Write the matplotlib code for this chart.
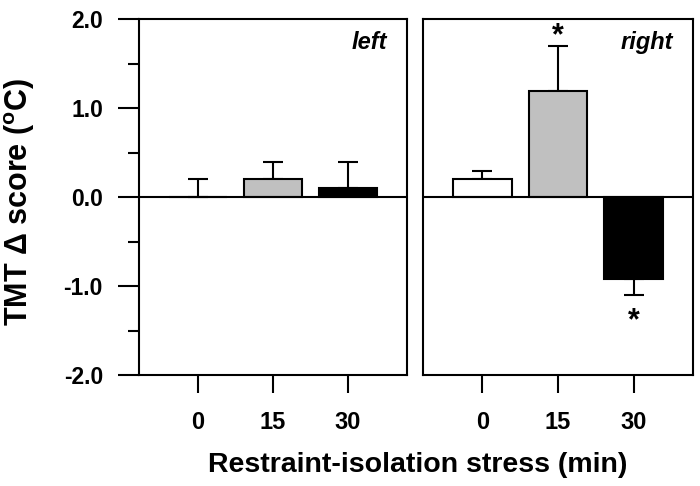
import numpy as np
import matplotlib
matplotlib.use('Agg')
import matplotlib.pyplot as plt
from matplotlib.ticker import MultipleLocator, FormatStrFormatter

plt.rcParams['font.family'] = ['Liberation Sans', 'DejaVu Sans']
plt.rcParams['font.weight'] = 'bold'
plt.rcParams['mathtext.fontset'] = 'custom'
plt.rcParams['mathtext.rm'] = 'Liberation Sans'

# data
groups = ['0', '15', '30']
colors = ['white', '#c0c0c0', 'black']
left_vals = [0.0, 0.2, 0.1]
left_err = [0.2, 0.2, 0.3]
right_vals = [0.2, 1.2, -0.92]
right_err = [0.1, 0.5, 0.18]
right_sig = [False, True, True]

LW = 1.5


def draw_panel(ax, vals, errs, sig=None, label=''):
    x = np.arange(len(vals))
    vals = np.asarray(vals)
    errs = np.asarray(errs)
    # one-sided errors pointing away from zero
    lower = np.where(vals < 0, errs, 0)
    upper = np.where(vals < 0, 0, errs)
    ax.bar(x, vals, width=0.77, color=colors, edgecolor='black',
           linewidth=LW, zorder=3)
    ax.errorbar(x, vals, yerr=[lower, upper], fmt='none', ecolor='black',
                elinewidth=LW, capsize=7.5, capthick=LW, zorder=2)
    ax.axhline(0, color='black', linewidth=LW, zorder=4)
    if sig is not None:
        for xi, v, e, s in zip(x, vals, errs, sig):
            if not s:
                continue
            if v >= 0:
                ax.annotate('*', (xi, v + e), xytext=(0, 1.5),
                            textcoords='offset points', ha='center',
                            va='baseline', fontsize=22, fontweight='bold')
            else:
                ax.annotate('*', (xi, v - e), xytext=(0, -25),
                            textcoords='offset points', ha='center',
                            va='baseline', fontsize=22, fontweight='bold')
    ax.text(0.925, 0.934, label, transform=ax.transAxes, ha='right',
            va='center', fontsize=17, fontstyle='italic', fontweight='bold')
    ax.set_xlim(-0.787, 2.787)
    ax.set_ylim(-2.0, 2.0)
    ax.set_xticks(x)
    ax.set_xticklabels(groups)
    ax.tick_params(axis='x', direction='out', length=13, width=LW, pad=13,
                   labelsize=17)
    for sp in ax.spines.values():
        sp.set_linewidth(LW)


fig = plt.figure(figsize=(7.0, 4.86), dpi=100)
ax1 = fig.add_axes([0.1986, 0.2284, 0.383, 0.7315])
ax2 = fig.add_axes([0.6043, 0.2284, 0.3857, 0.7315])

draw_panel(ax1, left_vals, left_err, label='left')
draw_panel(ax2, right_vals, right_err, sig=right_sig, label='right')

ax1.yaxis.set_major_locator(MultipleLocator(1.0))
ax1.yaxis.set_minor_locator(MultipleLocator(0.5))
ax1.yaxis.set_major_formatter(FormatStrFormatter('%.1f'))
ax1.tick_params(axis='y', which='major', direction='out', length=15,
                width=LW, pad=11, labelsize=16.5)
ax1.tick_params(axis='y', which='minor', direction='out', length=8, width=LW)
ax2.set_yticks([])

fig.text(0.596, 0.0288, 'Restraint-isolation stress (min)', ha='center',
         va='baseline', fontsize=20.5, fontweight='bold')
fig.text(0.0286, 0.584, r'TMT $\Delta$ score ($^{\mathrm{o}}$C)', ha='center',
         va='center', rotation=90, fontsize=22, fontweight='bold')

fig.savefig('out.png', dpi=100)
